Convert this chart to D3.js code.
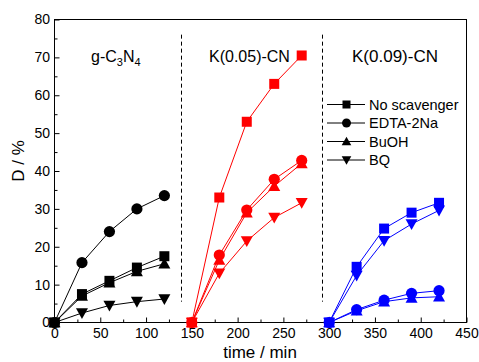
<!DOCTYPE html>
<html>
<head>
<meta charset="utf-8">
<script src="https://cdn.jsdelivr.net/npm/d3@7"></script>
<style>
  html, body { margin: 0; padding: 0; background: #fff; }
  svg { display: block; font-family: "Liberation Sans", Arial, sans-serif; }
</style>
</head>
<body>
<svg id="chart" width="479" height="362"></svg>
<script>
// Degradation (D, %) versus irradiation time for three catalysts,
// with and without radical scavengers.
const scavengers = ["No scavenger", "EDTA-2Na", "BuOH", "BQ"];
const symbols = ["square", "circle", "triangle", "triangleDown"];

const catalysts = ["g-C3N4", "K(0.05)-CN", "K(0.09)-CN"];
const catalystColors = ["#000000", "#ff0000", "#0000ff"];

const timesG = [0, 30, 60, 90, 120];
const timesK05 = [150, 180, 210, 240, 270];
const timesK09 = [300, 330, 360, 390, 420];

// values per scavenger, in the order of `scavengers`
const valuesG = [
  [0, 7.5, 11.0, 14.5, 17.5],
  [0, 15.8, 24.0, 30.0, 33.5],
  [0, 7.0, 10.5, 13.5, 15.5],
  [0, 2.5, 4.5, 5.5, 6.2]
];
const valuesK05 = [
  [0, 33.0, 53.0, 63.0, 70.5],
  [0, 17.8, 29.7, 37.8, 42.8],
  [0, 16.5, 29.0, 36.0, 42.0],
  [0, 13.0, 21.5, 27.7, 31.6]
];
const valuesK09 = [
  [0, 14.7, 24.8, 29.0, 31.6],
  [0, 3.4, 5.9, 7.7, 8.4],
  [0, 3.1, 5.5, 6.5, 6.8],
  [0, 12.4, 21.6, 26.0, 29.6]
];

const xTicks = [0, 50, 100, 150, 200, 250, 300, 350, 400, 450];
const yTicks = [0, 10, 20, 30, 40, 50, 60, 70, 80];
const dividers = [138, 292];

const FONT = "'Liberation Sans', Arial, sans-serif";
const svg = d3.select("#chart");
const plotLeft = 54.5, plotRight = 466.5, plotTop = 19.5, plotBottom = 322.5;

const x = d3.scaleLinear().domain([0, 450]).range([plotLeft, plotRight]);
const y = d3.scaleLinear().domain([0, 80]).range([plotBottom, plotTop]);

// axes with inward ticks (major + minor)
const xAxis = svg.append("g").attr("transform", `translate(0,${plotBottom})`)
  .call(d3.axisBottom(x).tickValues(xTicks).tickSizeInner(-5).tickSizeOuter(0).tickPadding(6));
const xMinor = svg.append("g").attr("transform", `translate(0,${plotBottom})`)
  .call(d3.axisBottom(x).tickValues(d3.range(25, 450, 50)).tickSizeInner(-3).tickSizeOuter(0).tickFormat(""));
const yAxis = svg.append("g").attr("transform", `translate(${plotLeft},0)`)
  .call(d3.axisLeft(y).tickValues(yTicks).tickSizeInner(-5).tickSizeOuter(0).tickPadding(4.5));
const yMinor = svg.append("g").attr("transform", `translate(${plotLeft},0)`)
  .call(d3.axisLeft(y).tickValues(d3.range(5, 80, 10)).tickSizeInner(-3).tickSizeOuter(0).tickFormat(""));

[xAxis, xMinor, yAxis, yMinor].forEach(g => {
  g.select(".domain").remove();
  g.selectAll("line").attr("stroke", "#000");
  g.selectAll("text").attr("fill", "#000").style("font-size", "14px").style("font-family", FONT);
});

// frame
svg.append("rect").attr("x", plotLeft).attr("y", plotTop)
  .attr("width", plotRight - plotLeft).attr("height", plotBottom - plotTop)
  .attr("fill", "none").attr("stroke", "#000").attr("stroke-width", 1);

// axis titles
svg.append("text").attr("x", 260).attr("y", 358)
  .attr("text-anchor", "middle").style("font-size", "17px").style("font-family", FONT).text("time / min");
svg.append("text").attr("transform", `translate(24,161) rotate(-90)`)
  .attr("text-anchor", "middle").style("font-size", "17px").style("font-family", FONT).text("D / %");

// dashed dividers between catalysts
dividers.forEach(d => {
  svg.append("line")
    .attr("x1", Math.round(x(d)) + 0.5).attr("x2", Math.round(x(d)) + 0.5)
    .attr("y1", y(76)).attr("y2", y(5.5))
    .attr("stroke", "#000").attr("stroke-dasharray", "4,3");
});

// catalyst labels
const labelG = svg.append("text").attr("x", 91).attr("y", 62).style("font-size", "16px").style("font-family", FONT);
labelG.append("tspan").text("g-C");
labelG.append("tspan").attr("dy", 4).style("font-size", "11px").text("3");
labelG.append("tspan").attr("dy", -4).text("N");
labelG.append("tspan").attr("dy", 4).style("font-size", "11px").text("4");
svg.append("text").attr("x", 209).attr("y", 62).style("font-size", "16px").style("font-family", FONT).text(catalysts[1]);
svg.append("text").attr("x", 352).attr("y", 62).style("font-size", "17px").style("font-family", FONT).text(catalysts[2]);

// marker shapes
function marker(g, type, cx, cy, color, s) {
  s = s || 1;
  if (type === "square") {
    const h = 5 * s;
    g.append("rect").attr("x", cx - h).attr("y", cy - h).attr("width", 2 * h).attr("height", 2 * h).attr("fill", color);
  } else if (type === "circle") {
    g.append("circle").attr("cx", cx).attr("cy", cy).attr("r", 5.6 * s).attr("fill", color);
  } else if (type === "triangle") {
    const h = 6 * s;
    g.append("path").attr("d", `M${cx},${cy - h}L${cx + h},${cy + h * 0.8}L${cx - h},${cy + h * 0.8}Z`).attr("fill", color);
  } else {
    const h = 6 * s;
    g.append("path").attr("d", `M${cx},${cy + h}L${cx + h},${cy - h * 0.8}L${cx - h},${cy - h * 0.8}Z`).attr("fill", color);
  }
}

const line = d3.line().x(d => x(d[0])).y(d => y(d[1]));
const groups = [
  { times: timesG, values: valuesG, color: catalystColors[0] },
  { times: timesK05, values: valuesK05, color: catalystColors[1] },
  { times: timesK09, values: valuesK09, color: catalystColors[2] }
];

groups.forEach(grp => {
  const g = svg.append("g");
  grp.values.forEach((vals, i) => {
    const pts = grp.times.map((t, j) => [t, vals[j]]);
    g.append("path").datum(pts).attr("d", line)
      .attr("fill", "none").attr("stroke", grp.color).attr("stroke-width", 1);
  });
  grp.values.forEach((vals, i) => {
    grp.times.forEach((t, j) => marker(g, symbols[i], x(t), y(vals[j]), grp.color));
  });
});

// legend
const legend = svg.append("g");
const legendY = [104.5, 123, 141.5, 160];
scavengers.forEach((name, i) => {
  const ly = legendY[i];
  legend.append("line").attr("x1", 327).attr("x2", 365).attr("y1", ly).attr("y2", ly)
    .attr("stroke", "#000").attr("stroke-width", 1);
  marker(legend, symbols[i], 346.5, ly, "#000", 0.8);
  legend.append("text").attr("x", 369).attr("y", ly + 5.2).style("font-size", "14.5px").style("font-family", FONT).text(name);
});
</script>
</body>
</html>
